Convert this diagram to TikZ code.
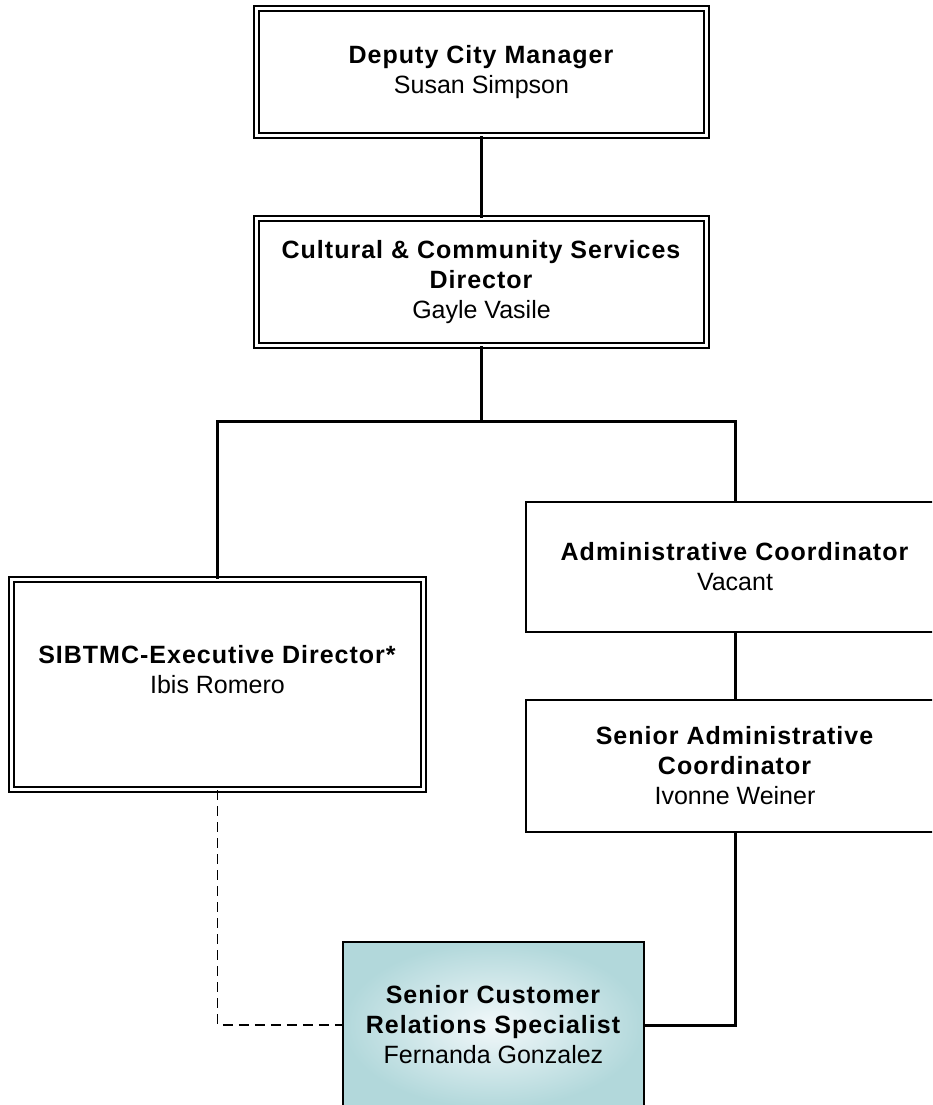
\documentclass[tikz,border=0pt]{standalone}
\usepackage{fontspec}
\setmainfont{Liberation Sans}[BoldFeatures={LetterSpace=4.0}]
\usetikzlibrary{positioning,calc}

\definecolor{tealedge}{RGB}{178,216,219}
\definecolor{tealmid}{RGB}{242,248,250}

\begin{document}
\begin{tikzpicture}[
  x=1pt, y=-1pt,
  dbox/.style={
    draw, line width=1.5pt, double, double distance=3.5pt, fill=white,
    align=center, inner sep=0pt,
    font=\fontsize{25}{30}\selectfont
  },
  sbox/.style={
    draw, line width=2pt, fill=white,
    align=center, inner sep=0pt,
    font=\fontsize{25}{30}\selectfont
  },
  hbox/.style={
    sbox, shading=radial, inner color=tealmid, outer color=tealedge
  },
  boxtext/.style={align=center, font=\fontsize{25}{30}\selectfont},
  link/.style={line width=3pt},
  dlink/.style={line width=1.5pt, dash pattern=on 10pt off 6pt},
]

\clip (0,0) rectangle (932,1105);
\fill[white] (0,0) rectangle (932,1105);

%% --- Top of the chain ------------------------------------------------
\node[dbox, minimum width=450, minimum height=127] (dcm) at (481.5,72)
  {\textbf{Deputy City Manager}\\Susan Simpson};
\node[dbox, minimum width=450, minimum height=127] (ccs) at (481.5,282)
  {\textbf{Cultural \& Community Services}\\\textbf{Director}\\Gayle Vasile};

%% --- Direct reports --------------------------------------------------
% text sits a little above the middle of this box
\node[dbox, minimum width=412, minimum height=210] (sib) at (217.5,684.5) {};
\node[boxtext] at ([yshift=15pt]sib.center)
  {\textbf{SIBTMC-Executive Director*}\\Ibis Romero};
\node[sbox, minimum width=418, minimum height=130] (adm) at (735,567)
  {\textbf{Administrative Coordinator}\\Vacant};
\node[sbox, minimum width=418, minimum height=132] (sad) at (735,766)
  {\textbf{Senior Administrative}\\\textbf{Coordinator}\\Ivonne Weiner};

%% --- Position of interest --------------------------------------------
\node[hbox, minimum width=301, minimum height=166] (scr) at (493.5,1025)
  {\textbf{Senior Customer}\\\textbf{Relations Specialist}\\Fernanda Gonzalez};

%% --- Reporting lines -------------------------------------------------
\coordinate (fork) at (481.5,421);

\draw[link] (dcm) -- (ccs);
\draw[link] (ccs) -- (fork);
\draw[link] (sib.north) |- (fork) -| (adm.north);
\draw[link] (adm) -- (sad);
\draw[link] (sad.south) |- (scr.east);

% dotted-line report to the SIBTMC director
\draw[dlink] (sib.south) |- (scr.west);

\end{tikzpicture}
\end{document}
